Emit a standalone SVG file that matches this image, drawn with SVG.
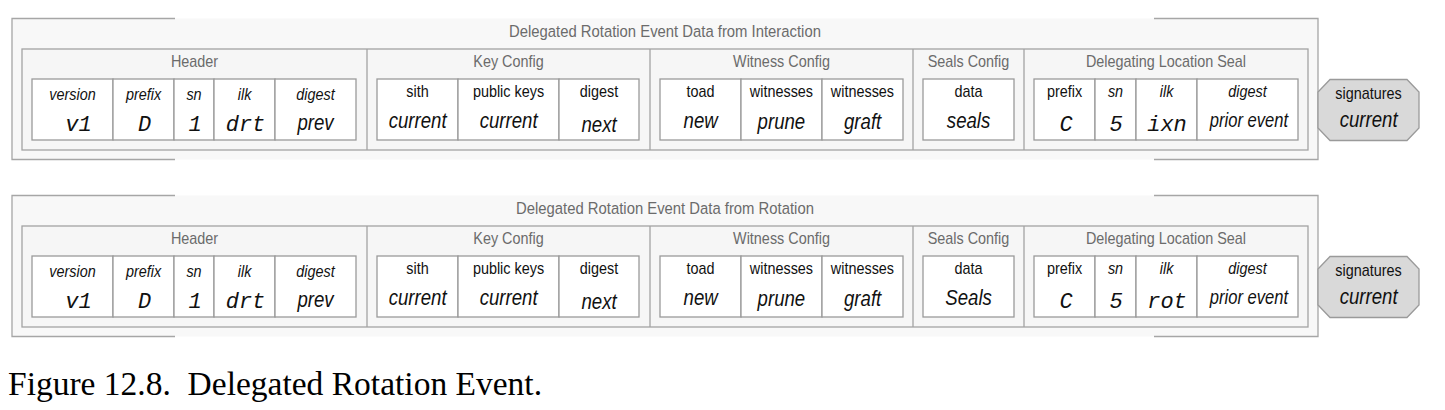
<svg xmlns="http://www.w3.org/2000/svg" width="1445" height="410" viewBox="0 0 1445 410">
<style>
.ob{fill:#f8f8f8;stroke:none}
.obl{fill:none;stroke:#a6a6a6;stroke-width:1.3}
.sec{fill:#f6f6f6;stroke:#a3a3a3;stroke-width:1.3}
.div{stroke:#a3a3a3;stroke-width:1.3}
.cell{fill:#ffffff;stroke:#9a9a9a;stroke-width:1.3}
.sig{fill:#d9d9d9;stroke:#9a9a9a;stroke-width:1.3}
text{font-family:"Liberation Sans",Arial,sans-serif;text-anchor:middle;transform-box:fill-box;transform-origin:center;transform:scaleX(0.9)}
.t{font-size:16.5px;fill:#6b6b6b}
.s{font-size:16px;fill:#6b6b6b}
.l{font-size:16px;fill:#111}
.li{font-size:16px;fill:#111;font-style:italic}
.v{font-size:23px;fill:#111;font-style:italic;transform:scaleX(0.81)}
.pe{font-size:19.5px;fill:#111;font-style:italic;transform:scaleX(0.85)}
.m{font-family:"Liberation Mono","Courier New",monospace;font-size:22px;fill:#111;font-style:italic;transform:none}
.cap{font-family:"Liberation Serif","Times New Roman",serif;font-size:33.5px;fill:#000;text-anchor:start;white-space:pre;transform:none}
</style>

<g id="event-interaction">
  <g id="outer-1">
    <rect class="ob" x="12" y="18.5" width="1306" height="141"/>
    <path class="obl" d="M175,18.5 H12 V159.5 H175 M1154,18.5 H1318 V159.5 H1154"/>
    <text class="t" x="665" y="37">Delegated Rotation Event Data from Interaction</text>
  </g>
  <rect class="sec" x="22" y="49" width="1286" height="101"/>
  <line class="div" x1="367" y1="49" x2="367" y2="150"/>
  <line class="div" x1="650" y1="49" x2="650" y2="150"/>
  <line class="div" x1="913" y1="49" x2="913" y2="150"/>
  <line class="div" x1="1024" y1="49" x2="1024" y2="150"/>

  <g id="header-1">
    <text class="s" x="194.5" y="67">Header</text>
    <rect class="cell" x="32" y="79" width="81" height="61"/>
    <rect class="cell" x="113" y="79" width="61" height="61"/>
    <rect class="cell" x="174" y="79" width="40" height="61"/>
    <rect class="cell" x="214" y="79" width="61" height="61"/>
    <rect class="cell" x="275" y="79" width="81" height="61"/>
    <text class="li" x="72.5" y="100">version</text>
    <text class="li" x="143.5" y="100">prefix</text>
    <text class="li" x="194" y="100">sn</text>
    <text class="li" x="244.5" y="100">ilk</text>
    <text class="li" x="315.5" y="100">digest</text>
    <text class="m" x="78.5" y="131">v1</text>
    <text class="m" x="144.5" y="131">D</text>
    <text class="m" x="195" y="131">1</text>
    <text class="m" x="245.5" y="131">drt</text>
    <text class="v" x="315.5" y="130">prev</text>
  </g>

  <g id="key-config-1">
    <text class="s" x="508.5" y="67">Key Config</text>
    <rect class="cell" x="377" y="79" width="81" height="61"/>
    <rect class="cell" x="458" y="79" width="101" height="61"/>
    <rect class="cell" x="559" y="79" width="80" height="61"/>
    <text class="l" x="417.5" y="97">sith</text>
    <text class="l" x="508.5" y="97">public keys</text>
    <text class="l" x="599" y="97">digest</text>
    <text class="v" x="417.5" y="128">current</text>
    <text class="v" x="508.5" y="128">current</text>
    <text class="v" x="599" y="132">next</text>
  </g>

  <g id="witness-config-1">
    <text class="s" x="781.5" y="67">Witness Config</text>
    <rect class="cell" x="660" y="79" width="81" height="61"/>
    <rect class="cell" x="741" y="79" width="81" height="61"/>
    <rect class="cell" x="822" y="79" width="81" height="61"/>
    <text class="l" x="700.5" y="97">toad</text>
    <text class="l" x="781.5" y="97">witnesses</text>
    <text class="l" x="862.5" y="97">witnesses</text>
    <text class="v" x="700.5" y="128">new</text>
    <text class="v" x="781.5" y="129">prune</text>
    <text class="v" x="862.5" y="129">graft</text>
  </g>

  <g id="seals-config-1">
    <text class="s" x="968.5" y="67">Seals Config</text>
    <rect class="cell" x="923" y="79" width="91" height="61"/>
    <text class="l" x="968.5" y="97">data</text>
    <text class="v" x="968.5" y="128">seals</text>
  </g>

  <g id="delegating-seal-1">
    <text class="s" x="1166" y="67">Delegating Location Seal</text>
    <rect class="cell" x="1034" y="79" width="61" height="61"/>
    <rect class="cell" x="1095" y="79" width="41" height="61"/>
    <rect class="cell" x="1136" y="79" width="61" height="61"/>
    <rect class="cell" x="1197" y="79" width="101" height="61"/>
    <text class="l" x="1064.5" y="97">prefix</text>
    <text class="li" x="1115.5" y="97">sn</text>
    <text class="li" x="1166.5" y="97">ilk</text>
    <text class="li" x="1247.5" y="97">digest</text>
    <text class="m" x="1066" y="131">C</text>
    <text class="m" x="1116" y="131">5</text>
    <text class="m" x="1167" y="131">ixn</text>
    <text class="pe" x="1249" y="127">prior event</text>
  </g>

  <g id="signatures-1">
    <polygon class="sig" points="1330,79.5 1407,79.5 1419,92 1419,128 1407,140.5 1330,140.5 1318,128 1318,92"/>
    <text class="l" x="1368.5" y="99">signatures</text>
    <text class="v" x="1368.5" y="127">current</text>
  </g>
</g>

<g id="event-rotation" transform="translate(0,177)">
  <g id="outer-2">
    <rect class="ob" x="12" y="18.5" width="1306" height="141"/>
    <path class="obl" d="M175,18.5 H12 V159.5 H175 M1154,18.5 H1318 V159.5 H1154"/>
    <text class="t" x="665" y="37">Delegated Rotation Event Data from Rotation</text>
  </g>
  <rect class="sec" x="22" y="49" width="1286" height="101"/>
  <line class="div" x1="367" y1="49" x2="367" y2="150"/>
  <line class="div" x1="650" y1="49" x2="650" y2="150"/>
  <line class="div" x1="913" y1="49" x2="913" y2="150"/>
  <line class="div" x1="1024" y1="49" x2="1024" y2="150"/>

  <g id="header-2">
    <text class="s" x="194.5" y="67">Header</text>
    <rect class="cell" x="32" y="79" width="81" height="61"/>
    <rect class="cell" x="113" y="79" width="61" height="61"/>
    <rect class="cell" x="174" y="79" width="40" height="61"/>
    <rect class="cell" x="214" y="79" width="61" height="61"/>
    <rect class="cell" x="275" y="79" width="81" height="61"/>
    <text class="li" x="72.5" y="100">version</text>
    <text class="li" x="143.5" y="100">prefix</text>
    <text class="li" x="194" y="100">sn</text>
    <text class="li" x="244.5" y="100">ilk</text>
    <text class="li" x="315.5" y="100">digest</text>
    <text class="m" x="78.5" y="131">v1</text>
    <text class="m" x="144.5" y="131">D</text>
    <text class="m" x="195" y="131">1</text>
    <text class="m" x="245.5" y="131">drt</text>
    <text class="v" x="315.5" y="130">prev</text>
  </g>

  <g id="key-config-2">
    <text class="s" x="508.5" y="67">Key Config</text>
    <rect class="cell" x="377" y="79" width="81" height="61"/>
    <rect class="cell" x="458" y="79" width="101" height="61"/>
    <rect class="cell" x="559" y="79" width="80" height="61"/>
    <text class="l" x="417.5" y="97">sith</text>
    <text class="l" x="508.5" y="97">public keys</text>
    <text class="l" x="599" y="97">digest</text>
    <text class="v" x="417.5" y="128">current</text>
    <text class="v" x="508.5" y="128">current</text>
    <text class="v" x="599" y="132">next</text>
  </g>

  <g id="witness-config-2">
    <text class="s" x="781.5" y="67">Witness Config</text>
    <rect class="cell" x="660" y="79" width="81" height="61"/>
    <rect class="cell" x="741" y="79" width="81" height="61"/>
    <rect class="cell" x="822" y="79" width="81" height="61"/>
    <text class="l" x="700.5" y="97">toad</text>
    <text class="l" x="781.5" y="97">witnesses</text>
    <text class="l" x="862.5" y="97">witnesses</text>
    <text class="v" x="700.5" y="128">new</text>
    <text class="v" x="781.5" y="129">prune</text>
    <text class="v" x="862.5" y="129">graft</text>
  </g>

  <g id="seals-config-2">
    <text class="s" x="968.5" y="67">Seals Config</text>
    <rect class="cell" x="923" y="79" width="91" height="61"/>
    <text class="l" x="968.5" y="97">data</text>
    <text class="v" x="968.5" y="128">Seals</text>
  </g>

  <g id="delegating-seal-2">
    <text class="s" x="1166" y="67">Delegating Location Seal</text>
    <rect class="cell" x="1034" y="79" width="61" height="61"/>
    <rect class="cell" x="1095" y="79" width="41" height="61"/>
    <rect class="cell" x="1136" y="79" width="61" height="61"/>
    <rect class="cell" x="1197" y="79" width="101" height="61"/>
    <text class="l" x="1064.5" y="97">prefix</text>
    <text class="li" x="1115.5" y="97">sn</text>
    <text class="li" x="1166.5" y="97">ilk</text>
    <text class="li" x="1247.5" y="97">digest</text>
    <text class="m" x="1066" y="131">C</text>
    <text class="m" x="1116" y="131">5</text>
    <text class="m" x="1167" y="131">rot</text>
    <text class="pe" x="1249" y="127">prior event</text>
  </g>

  <g id="signatures-2">
    <polygon class="sig" points="1330,79.5 1407,79.5 1419,92 1419,128 1407,140.5 1330,140.5 1318,128 1318,92"/>
    <text class="l" x="1368.5" y="99">signatures</text>
    <text class="v" x="1368.5" y="127">current</text>
  </g>
</g>

<text id="caption" class="cap" x="8" y="395">Figure 12.8.  Delegated Rotation Event.</text>
</svg>
